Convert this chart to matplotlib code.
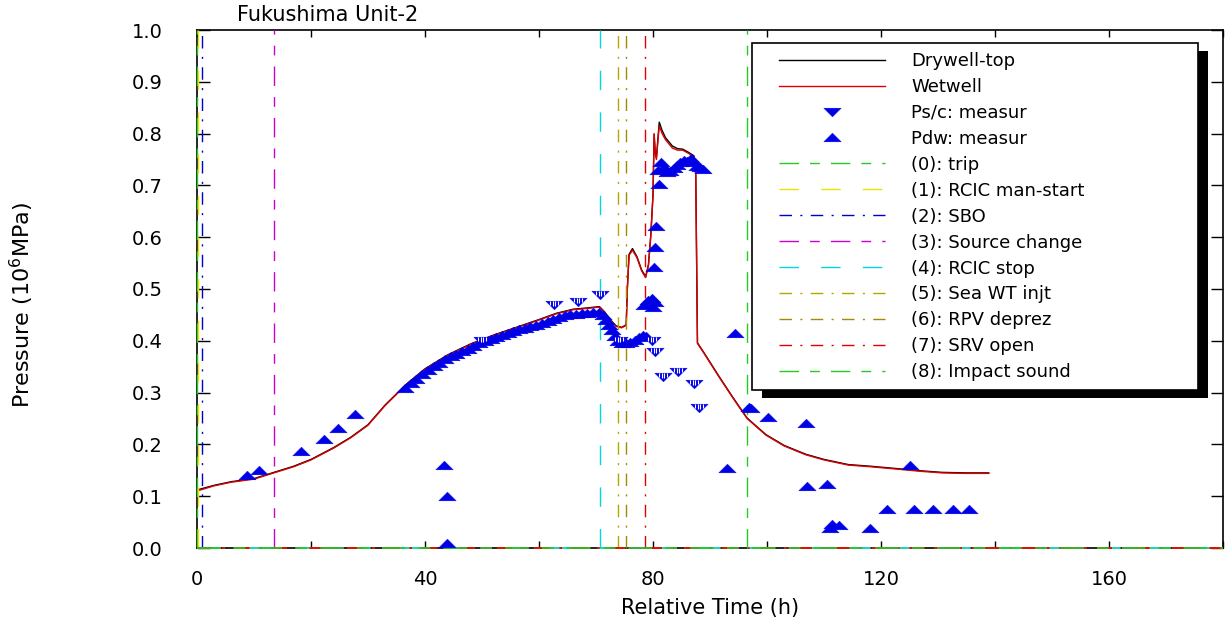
import matplotlib
matplotlib.use('Agg')
import matplotlib.pyplot as plt
from matplotlib.path import Path
from matplotlib.patches import Rectangle
from matplotlib.transforms import IdentityTransform
from matplotlib.lines import Line2D
from matplotlib.legend_handler import HandlerLine2D

# calculated containment pressures (wetwell and drywell-top)
wet_t = [0, 3, 6, 10, 13.5, 17, 20, 24, 27, 30, 33, 36.7, 40, 44, 48, 52, 56, 60, 63, 66,
         68, 70.6, 71.5, 72.5, 73.5, 74.5, 75.3, 75.5, 75.8, 76.4, 77.2, 78, 78.7, 79.2,
         79.6, 80.0, 80.2, 80.4, 80.6, 80.9, 81.1, 81.6, 82.2, 83.4, 84.3, 85.2, 86.2,
         87.2, 87.5, 87.8, 89, 91.6, 94, 96.5, 99.8, 103, 106.8, 110, 114.3, 118, 123.1,
         127, 130.7, 135, 138.9]
wet_p = [0.110, 0.120, 0.127, 0.133, 0.145, 0.157, 0.170, 0.193, 0.213, 0.237, 0.275,
         0.315, 0.345, 0.372, 0.393, 0.410, 0.425, 0.440, 0.452, 0.460, 0.462, 0.465,
         0.455, 0.440, 0.428, 0.425, 0.430, 0.500, 0.565, 0.575, 0.560, 0.535, 0.522,
         0.545, 0.600, 0.680, 0.800, 0.760, 0.750, 0.790, 0.815, 0.800, 0.788, 0.772,
         0.768, 0.768, 0.762, 0.755, 0.720, 0.395, 0.375, 0.330, 0.290, 0.250, 0.218,
         0.197, 0.180, 0.170, 0.160, 0.157, 0.152, 0.148, 0.145, 0.144, 0.144]
dry_t = wet_t
dry_p = [0.112, 0.121, 0.128, 0.134, 0.146, 0.158, 0.171, 0.194, 0.214, 0.238, 0.276,
         0.316, 0.346, 0.373, 0.394, 0.411, 0.426, 0.441, 0.453, 0.461, 0.463, 0.466,
         0.456, 0.441, 0.429, 0.426, 0.431, 0.502, 0.567, 0.578, 0.562, 0.537, 0.524,
         0.547, 0.602, 0.682, 0.798, 0.762, 0.754, 0.796, 0.822, 0.806, 0.792, 0.776,
         0.771, 0.770, 0.764, 0.757, 0.722, 0.396, 0.376, 0.331, 0.291, 0.251, 0.219,
         0.198, 0.181, 0.171, 0.161, 0.158, 0.153, 0.149, 0.146, 0.145, 0.145]

# measured drywell pressure (up triangles)
pdw_t = [8.7, 10.9, 18.2, 22.2, 24.7, 27.7, 43.3, 43.9, 43.9,
         36.5, 37.5, 38.5, 39.5, 40.5, 41.5, 42.5, 43.5, 44.5, 45.5, 46.5, 47.5, 48.5,
         49.5, 50.5, 51.5, 52.5, 53.5, 54.5, 55.5, 56.5, 57.5, 58.5, 59.5, 60.5, 61.5,
         62.5, 63.5, 64.5, 65.5, 66.5, 67.5, 68.5, 69.5, 70.5, 71.2, 71.8, 72.3, 72.8,
         73.3, 73.8, 74.5, 75.3, 76.0, 76.8, 77.5, 78.2, 78.8,
         78.5, 79.2, 79.8, 80.4, 80.0, 80.2, 80.4, 80.5, 81.0,
         80.8, 81.4, 82.0, 82.5, 83.0, 83.6, 84.2, 84.8, 85.4, 86.0, 86.6, 87.2, 87.8,
         88.3, 88.8,
         94.4, 93.0, 96.8, 97.2, 100.2, 106.9, 107.0, 110.5, 111.4, 112.6, 111.1, 118.0,
         125.0, 121.1, 125.8, 129.2, 132.6, 135.5]
pdw_p = [0.141, 0.150, 0.188, 0.210, 0.231, 0.258, 0.160, 0.100, 0.009,
         0.308, 0.318, 0.327, 0.335, 0.343, 0.351, 0.358, 0.364, 0.370, 0.375, 0.380,
         0.385, 0.390, 0.395, 0.399, 0.403, 0.407, 0.411, 0.415, 0.418, 0.422, 0.425,
         0.428, 0.431, 0.434, 0.438, 0.442, 0.446, 0.449, 0.451, 0.452, 0.453, 0.454,
         0.455, 0.455, 0.450, 0.440, 0.430, 0.420, 0.410, 0.400, 0.395, 0.395, 0.398,
         0.402, 0.408, 0.412, 0.410,
         0.470, 0.478, 0.482, 0.475, 0.465, 0.543, 0.582, 0.622, 0.702,
         0.730, 0.746, 0.735, 0.725, 0.728, 0.733, 0.740, 0.745, 0.750, 0.748, 0.752,
         0.745, 0.737, 0.735, 0.732,
         0.416, 0.155, 0.273, 0.270, 0.252, 0.241, 0.120, 0.123, 0.046, 0.044, 0.038,
         0.039, 0.160, 0.075, 0.075, 0.075, 0.075, 0.075]

# measured suppression chamber pressure (down triangles)
psc_t = [50.0, 62.7, 66.8, 70.7, 74.0, 79.9, 80.4, 81.7, 84.4, 87.2, 88.1]
psc_p = [0.400, 0.469, 0.474, 0.488, 0.400, 0.400, 0.379, 0.331, 0.340, 0.317, 0.270]

# event times
ev_t = [0.0, 0.15, 0.9, 13.5, 70.7, 73.9, 75.3, 78.6, 96.5]
ev_names = ['(0): trip', '(1): RCIC man-start', '(2): SBO', '(3): Source change',
            '(4): RCIC stop', '(5): Sea WT injt', '(6): RPV deprez', '(7): SRV open',
            '(8): Impact sound']
ev_colors = ['#22cc22', '#e6e600', '#0000c8', '#cc00cc', '#00d8e0', '#b8a400',
             '#a08c00', '#e00000', '#22cc22']
dashdash = (0, (14, 8, 7, 8))
longdash = (0, (14, 16))
dashdot = (0, (9, 6, 1.5, 6))
ev_styles = [dashdash, longdash, dashdot, dashdash, longdash, dashdot, dashdot,
             dashdot, dashdash]

x_ticks = [0, 20, 40, 60, 80, 100, 120, 140, 160, 180]
x_labels = ['0', '', '40', '', '80', '', '120', '', '160', '']
y_ticks = [0.0, 0.1, 0.2, 0.3, 0.4, 0.5, 0.6, 0.7, 0.8, 0.9, 1.0]
y_labels = ['0.0', '0.1', '0.2', '0.3', '0.4', '0.5', '0.6', '0.7', '0.8', '0.9', '1.0']

blue = '#0000e6'
M, L, C = Path.MOVETO, Path.LINETO, Path.CLOSEPOLY
up_tri = Path([(-1, -0.5), (1, -0.5), (0, 0.5), (-1, -0.5)], [M, L, L, C])
down_tri = Path([(-1, 0.5), (1, 0.5), (0, -0.5), (-1, 0.5)], [M, L, L, C])
stripes = Path([(-1, 0.5), (-0.45, 0.45), (-0.45, 0.0), (-0.15, 0.45), (-0.15, -0.1),
                (0.15, 0.45), (0.15, -0.1), (0.45, 0.45), (0.45, 0.0), (1, -0.5)],
               [M, M, L, M, L, M, L, M, L, M])

fig = plt.figure(figsize=(12.32, 6.25), dpi=100)
ax = fig.add_axes([197 / 1232, 77 / 625, 1026 / 1232, 518 / 625])

ax.plot(dry_t, dry_p, color='black', lw=1.0, label='Drywell-top', zorder=3)
ax.plot(wet_t, wet_p, color='#dd0000', lw=1.0, label='Wetwell', zorder=3)
ax.plot(psc_t, psc_p, ls='none', marker=down_tri, ms=12.5, color=blue, mew=0.3,
        label='Ps/c: measur', zorder=4)
ax.plot(pdw_t, pdw_p, ls='none', marker=up_tri, ms=12.5, color=blue, mew=0.3,
        label='Pdw: measur', zorder=4)
ax.plot(psc_t, psc_p, ls='none', marker=stripes, ms=12.5, mec='white', mew=0.8,
        zorder=4.5)

for t, name, c, s in zip(ev_t, ev_names, ev_colors, ev_styles):
    ax.plot([t, t], [0, 1], color=c, ls=s, lw=1.0, label=name, clip_on=False, zorder=3)
    ax.plot([0, 180], [0, 0], color=c, ls=s, lw=1.2, clip_on=False, zorder=3)

ax.set_xlim(0, 180)
ax.set_ylim(0, 1.0)
ax.set_xticks(x_ticks)
ax.set_xticklabels(x_labels, fontsize=14)
ax.set_yticks(y_ticks)
ax.set_yticklabels(y_labels, fontsize=14)
ax.tick_params(axis='x', direction='in', length=5, width=1, pad=16, top=True)
ax.tick_params(axis='y', direction='in', length=9, width=1, pad=25, right=True)
for sp in ax.spines.values():
    sp.set_linewidth(1.2)

ax.set_xlabel('Relative Time (h)', fontsize=15, labelpad=6)
ax.set_ylabel('Pressure (10$^6$MPa)', fontsize=16,
              family=['Liberation Sans Narrow', 'DejaVu Sans'])
ax.yaxis.set_label_coords(-0.157, 0.47)
fig.text(237 / 1232, 1 - 21 / 625, 'Fukushima Unit-2', fontsize=15, va='baseline')

leg = ax.legend(loc='upper left', bbox_to_anchor=(0.541, 0.975, 0.435, 0.0),
                mode='expand', borderaxespad=0, fontsize=13, handlelength=6.87,
                handletextpad=1.44, labelspacing=0.44, borderpad=0.5,
                fancybox=False, framealpha=1, edgecolor='black',
                handler_map={Line2D: HandlerLine2D(xpad=1.0)})
leg.get_frame().set_linewidth(1.2)
leg.set_zorder(10)

fig.canvas.draw()
bb = leg.get_window_extent()
shadow = Rectangle((bb.x0 + 10, bb.y0 - 8), bb.width, bb.height, facecolor='black',
                   edgecolor='none', transform=IdentityTransform(), clip_on=False,
                   zorder=9)
ax.add_artist(shadow)

fig.savefig('out.png', dpi=100)
